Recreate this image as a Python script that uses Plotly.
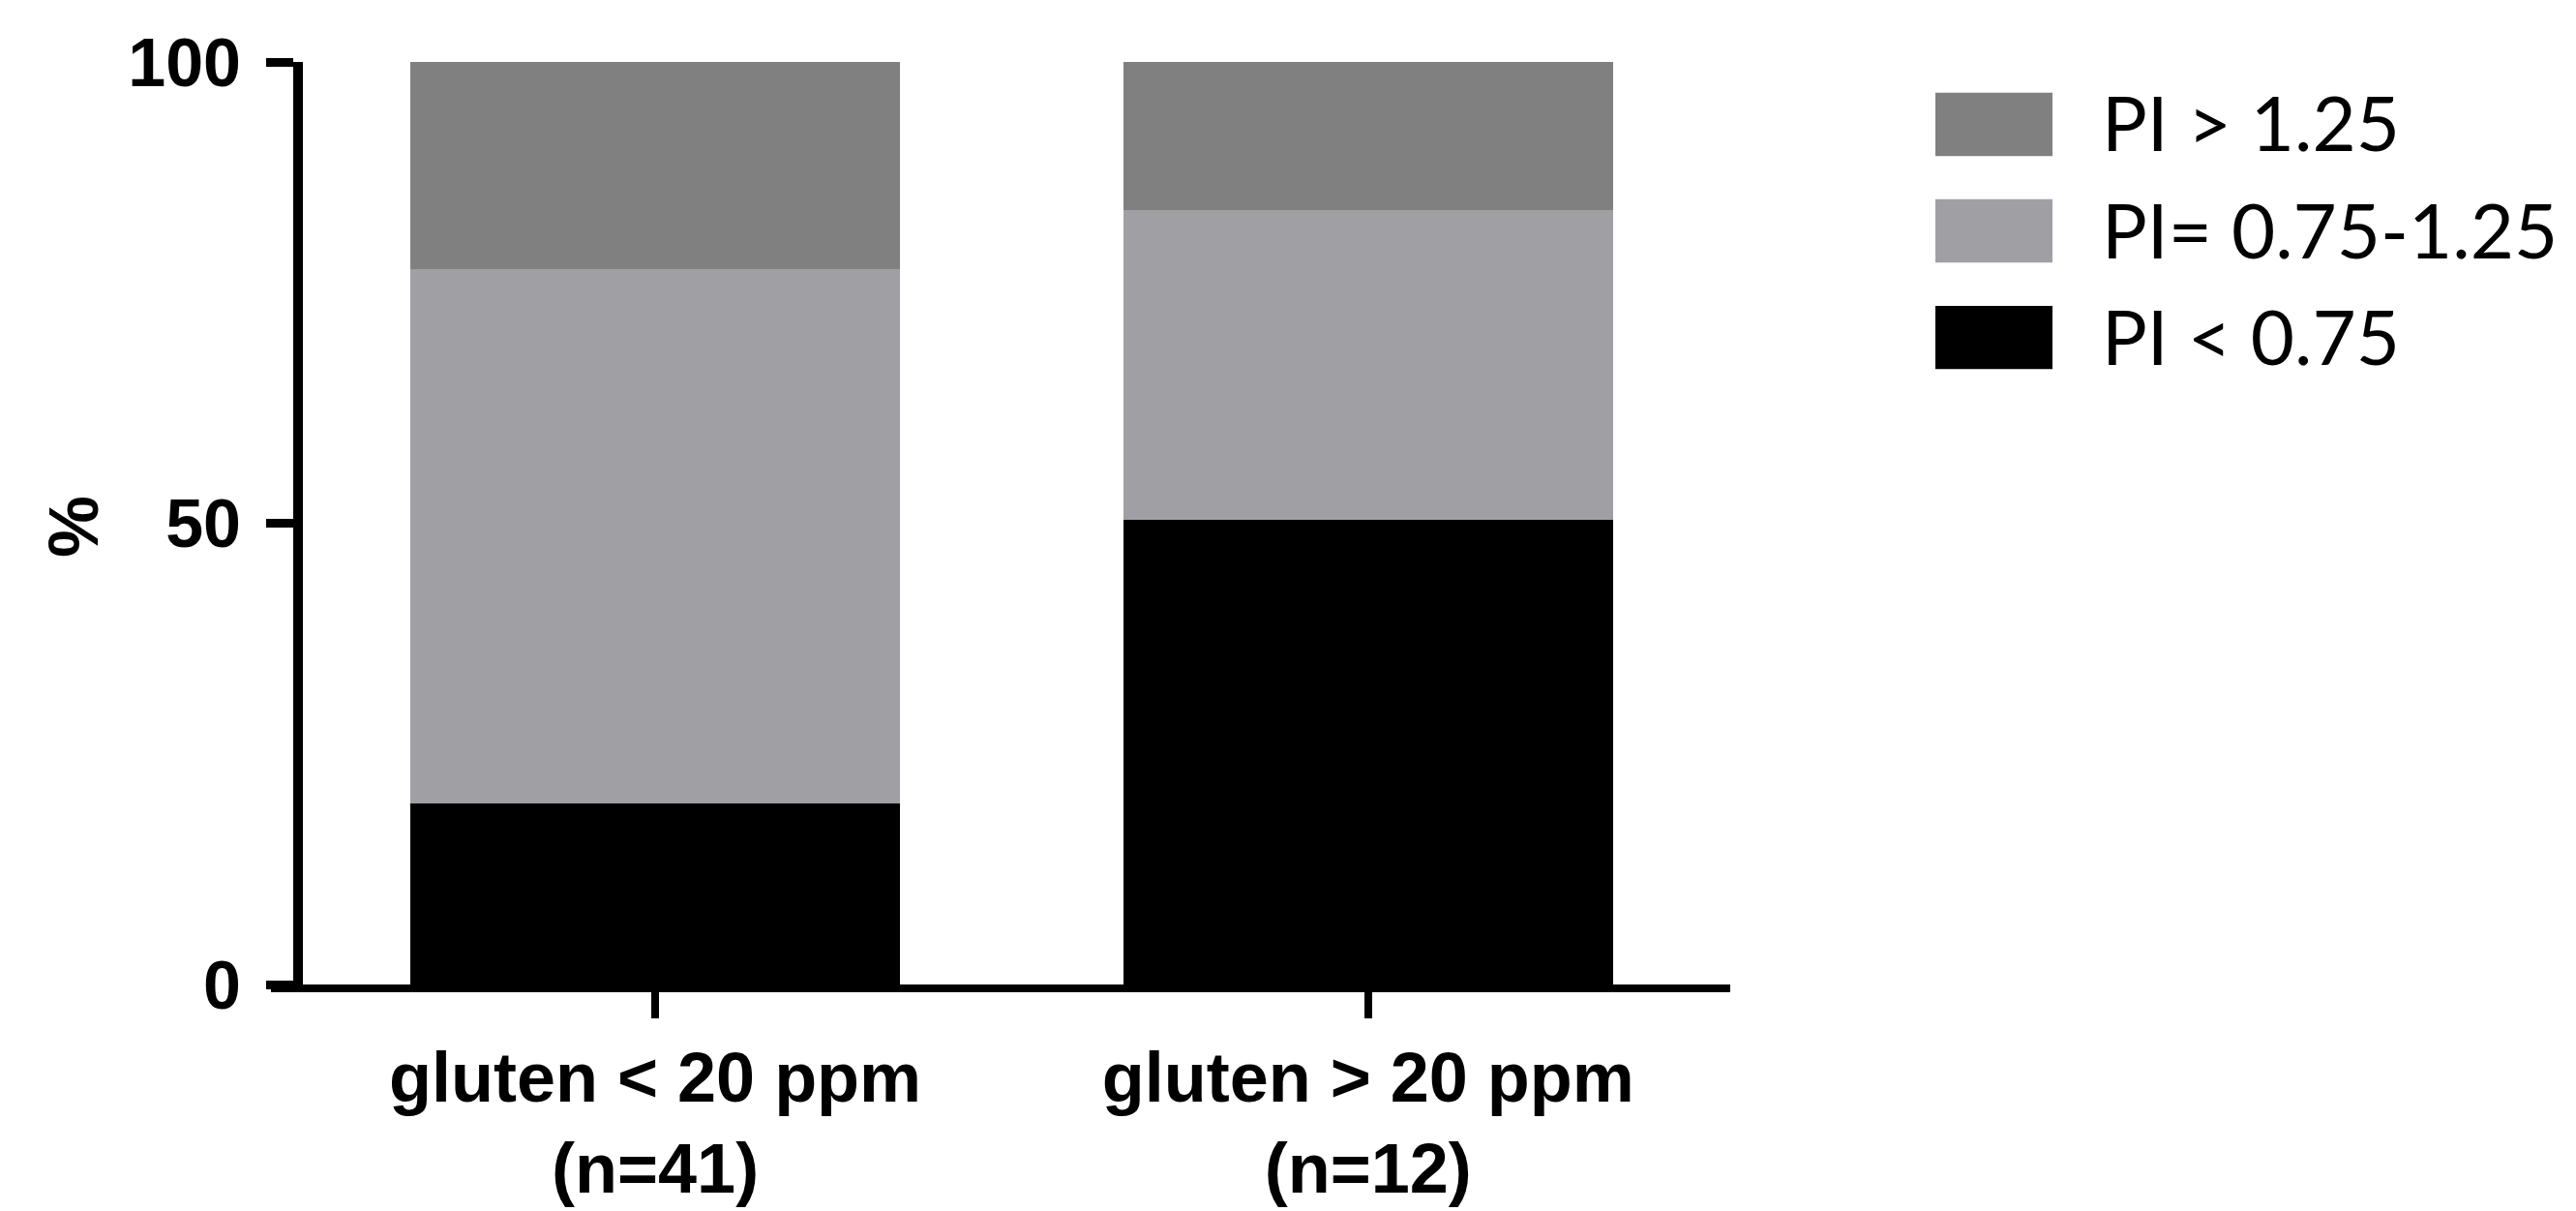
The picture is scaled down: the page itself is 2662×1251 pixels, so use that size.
import plotly.graph_objects as go

# Data (percent of samples per PI class)
CATEGORIES = ['gluten < 20 ppm<br>(n=41)', 'gluten > 20 ppm<br>(n=12)']
PI_LOW = [19.6, 50.4]    # PI < 0.75
PI_MID = [57.9, 33.5]    # PI = 0.75-1.25
PI_HIGH = [22.5, 16.1]   # PI > 1.25

SERIES_NAMES = ['PI < 0.75', 'PI= 0.75-1.25', 'PI > 1.25']
SERIES_COLORS = ['#000000', '#a0a0a4', '#808080']
Y_TICKS = [0, 50, 100]

W, H = 2662, 1251
M_L, M_R, M_T, M_B = 272, 882, 56, 234
PLOT_W = W - M_L - M_R
PLOT_H = H - M_T - M_B


def px_x(px):
    # pixel x -> paper x
    return (px - M_L) / PLOT_W


def px_y(py):
    # pixel y -> paper y
    return (H - M_B - py) / PLOT_H


BOLD = dict(family='Liberation Sans', color='black', weight='bold')

fig = go.Figure()
for name, vals, color in zip(SERIES_NAMES, [PI_LOW, PI_MID, PI_HIGH], SERIES_COLORS):
    fig.add_trace(go.Bar(x=CATEGORIES, y=vals, name=name,
                         marker=dict(color=color, line=dict(width=0)),
                         showlegend=False))

fig.update_layout(
    width=W, height=H,
    margin=dict(l=M_L, r=M_R, t=M_T, b=M_B),
    barmode='stack', bargap=0.313,
    plot_bgcolor='white', paper_bgcolor='white',
    xaxis=dict(
        type='category', range=[-0.539, 1.508],
        showline=True, linecolor='black', linewidth=8,
        ticks='outside', ticklen=27, tickwidth=8, tickcolor='black',
        tickfont=dict(size=72, **BOLD), showgrid=False, zeroline=False,
    ),
    yaxis=dict(
        range=[0, 100], tickvals=Y_TICKS,
        anchor='free', position=px_x(300),
        showline=True, linecolor='black', linewidth=10,
        ticks='outside', ticklen=28, tickwidth=9, tickcolor='black',
        tickfont=dict(size=70, **BOLD), ticklabelstandoff=12,
        showgrid=False, zeroline=False,
    ),
)

# y-axis title
fig.add_annotation(text='%', xref='paper', yref='paper', x=px_x(68), y=px_y(540),
                   textangle=-90, showarrow=False, xanchor='center', yanchor='middle',
                   font=dict(size=72, **BOLD))

# Legend drawn by hand (top-to-bottom: PI > 1.25, PI= 0.75-1.25, PI < 0.75)
row_top, row_pitch, sw_h = 88, 111, 66
for i, (name, color) in enumerate(zip(SERIES_NAMES[::-1], SERIES_COLORS[::-1])):
    top = row_top + i * row_pitch
    fig.add_shape(type='rect', xref='paper', yref='paper',
                  x0=px_x(1992), x1=px_x(2113), y0=px_y(top), y1=px_y(top + sw_h),
                  fillcolor=color, line=dict(width=0))
    fig.add_annotation(text=name, xref='paper', yref='paper',
                       x=px_x(2162), y=px_y(top + sw_h / 2 - 2),
                       showarrow=False, xanchor='left', yanchor='middle',
                       font=dict(family='Lato', size=78, color='black'))

fig.write_html('out.html')
